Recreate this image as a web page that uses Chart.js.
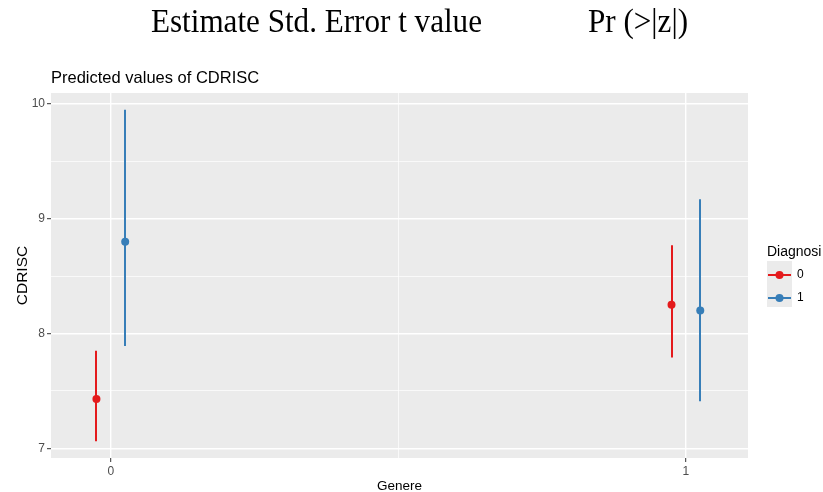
<!DOCTYPE html>
<html>
<head>
<meta charset="utf-8">
<script src="https://cdn.jsdelivr.net/npm/chart.js@4.4.1/dist/chart.umd.min.js"></script>
<style>
  html, body { margin: 0; padding: 0; background: #ffffff; }
  #wrap { position: relative; width: 823px; height: 492px; overflow: hidden; }
  canvas { display: block; }
</style>
</head>
<body>
<div id="wrap"><canvas id="chart" width="823" height="492"></canvas></div>
<script>
// Predicted CDRISC by Genere, grouped by Diagnosi (estimate with 95% CI)
const genereLevels = [0, 1];
const diagnosiLevels = ['0', '1'];
const dodge = [-0.025, 0.025];

const predDiag0 = [7.43, 8.25];
const lowDiag0  = [7.06, 7.79];
const highDiag0 = [7.85, 8.77];

const predDiag1 = [8.80, 8.20];
const lowDiag1  = [7.89, 7.41];
const highDiag1 = [9.95, 9.17];

const yTickValues = [7, 7.5, 8, 8.5, 9, 9.5, 10];
const xTickValues = [0, 0.5, 1];
const yMajor = [7, 8, 9, 10];
const xMajor = [0, 1];

const headerLeft = 'Estimate Std. Error t value';
const headerRight = 'Pr (>|z|)';
const plotTitle = 'Predicted values of CDRISC';
const xTitle = 'Genere';
const yTitle = 'CDRISC';
const legendTitle = 'Diagnosi';

const colors = ['#E41A1C', '#377EB8'];
const SANS = '"Liberation Sans", Arial, sans-serif';

function makeSeries(pred, low, high, k) {
  return {
    label: diagnosiLevels[k],
    data: genereLevels.map((g, i) => ({ x: g + dodge[k], y: pred[i], lo: low[i], hi: high[i] })),
    backgroundColor: colors[k],
    borderColor: colors[k],
    pointRadius: 4,
    pointHoverRadius: 4,
    pointBorderWidth: 0,
    showLine: false
  };
}

// Vertical interval lines drawn from each point's lo/hi through the y scale
const errorBars = {
  id: 'errorBars',
  beforeDatasetsDraw(chart) {
    const ctx = chart.ctx;
    const xs = chart.scales.x, ys = chart.scales.y;
    ctx.save();
    chart.data.datasets.forEach(ds => {
      ctx.strokeStyle = ds.borderColor;
      ctx.lineWidth = 2;
      ds.data.forEach(p => {
        const px = Math.round(xs.getPixelForValue(p.x));
        ctx.beginPath();
        ctx.moveTo(px, ys.getPixelForValue(p.lo));
        ctx.lineTo(px, ys.getPixelForValue(p.hi));
        ctx.stroke();
      });
    });
    ctx.restore();
  }
};

function narrowText(ctx, text, x, y, sx) {
  ctx.save();
  ctx.translate(x, y);
  ctx.scale(sx, 1);
  ctx.fillText(text, 0, 0);
  ctx.restore();
}

// Panel background, texts and legend
const decorations = {
  id: 'decorations',
  beforeDraw(chart) {
    const { ctx, chartArea: a } = chart;
    ctx.save();
    ctx.fillStyle = '#EBEBEB';
    ctx.fillRect(a.left, a.top, a.right - a.left, a.bottom - a.top);
    ctx.restore();
  },
  afterDraw(chart) {
    const { ctx, chartArea: a } = chart;
    ctx.save();
    ctx.fillStyle = '#000000';
    ctx.textBaseline = 'alphabetic';
    ctx.textAlign = 'left';
    ctx.font = '33px "Liberation Serif", "Times New Roman", serif';
    narrowText(ctx, headerLeft, 151, 32, 0.943);
    narrowText(ctx, headerRight, 588, 32, 0.943);

    ctx.font = '16.5px ' + SANS;
    ctx.fillText(plotTitle, 51, 83);

    ctx.font = '13.5px ' + SANS;
    ctx.textAlign = 'center';
    ctx.fillText(xTitle, (a.left + a.right) / 2, 490);

    ctx.font = '15.5px ' + SANS;
    ctx.save();
    ctx.translate(27, (a.top + a.bottom) / 2);
    ctx.rotate(-Math.PI / 2);
    ctx.fillText(yTitle, 0, 0);
    ctx.restore();

    // legend
    ctx.textAlign = 'left';
    ctx.font = '14px ' + SANS;
    ctx.fillText(legendTitle, 767, 256);
    ctx.fillStyle = '#EBEBEB';
    ctx.fillRect(767, 261, 25, 46);
    ctx.font = '12px ' + SANS;
    chart.data.datasets.forEach((ds, k) => {
      const cy = 275 + k * 23;
      ctx.strokeStyle = ds.borderColor;
      ctx.lineWidth = 2;
      ctx.beginPath();
      ctx.moveTo(768, cy);
      ctx.lineTo(791, cy);
      ctx.stroke();
      ctx.fillStyle = ds.backgroundColor;
      ctx.beginPath();
      ctx.arc(779.5, cy, 4, 0, Math.PI * 2);
      ctx.fill();
      ctx.fillStyle = '#000000';
      ctx.textBaseline = 'middle';
      ctx.fillText(ds.label, 797, cy);
    });
    ctx.restore();
  }
};

const gridWidth = (major) => (c) => (c.tick && major.includes(c.tick.value) ? 1.4 : 0.7);
const tickCol = (major) => (c) => (c.tick && major.includes(c.tick.value) ? '#333333' : 'rgba(0,0,0,0)');

new Chart(document.getElementById('chart'), {
  type: 'scatter',
  data: {
    datasets: [
      makeSeries(predDiag0, lowDiag0, highDiag0, 0),
      makeSeries(predDiag1, lowDiag1, highDiag1, 1)
    ]
  },
  options: {
    responsive: false,
    animation: false,
    devicePixelRatio: 1,
    layout: { padding: { top: 93, right: 75, left: 0, bottom: 0 } },
    plugins: { legend: { display: false }, tooltip: { enabled: false }, title: { display: false } },
    scales: {
      x: {
        type: 'linear',
        min: -0.104,
        max: 1.108,
        afterFit(s) { s.height = 34; },
        afterBuildTicks(s) { s.ticks = xTickValues.map(v => ({ value: v })); },
        border: { display: false },
        grid: {
          color: '#FFFFFF',
          lineWidth: gridWidth(xMajor),
          tickColor: tickCol(xMajor),
          tickLength: 4,
          tickWidth: 1
        },
        ticks: {
          padding: 2,
          color: '#4D4D4D',
          font: { family: SANS, size: 12 },
          callback: v => (xMajor.includes(v) ? String(v) : '')
        }
      },
      y: {
        type: 'linear',
        min: 6.915,
        max: 10.096,
        afterFit(s) { s.width = 51; },
        afterBuildTicks(s) { s.ticks = yTickValues.map(v => ({ value: v })); },
        border: { display: false },
        grid: {
          color: '#FFFFFF',
          lineWidth: gridWidth(yMajor),
          tickColor: tickCol(yMajor),
          tickLength: 4,
          tickWidth: 1
        },
        ticks: {
          padding: 2,
          color: '#4D4D4D',
          font: { family: SANS, size: 12 },
          callback: v => (yMajor.includes(v) ? String(v) : '')
        }
      }
    }
  },
  plugins: [decorations, errorBars]
});
</script>
</body>
</html>
